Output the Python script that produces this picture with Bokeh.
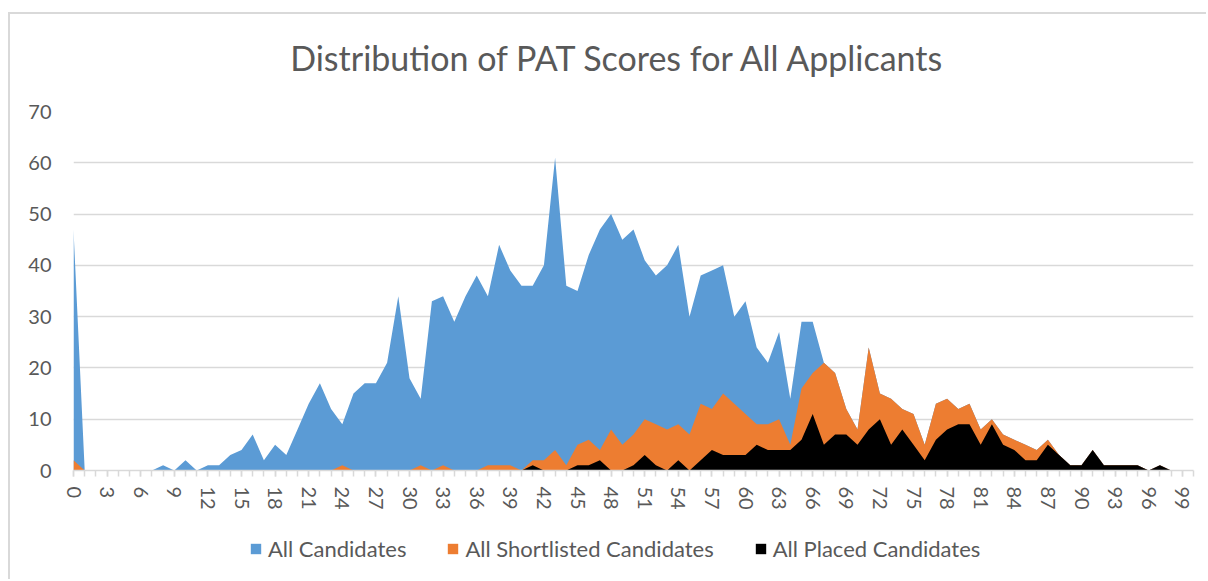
from bokeh.plotting import figure
from bokeh.layouts import column
from bokeh.models import Range1d, FixedTicker, Legend, LegendItem, Label
from bokeh.embed import file_html
from bokeh.resources import INLINE

scores = list(range(100))

all_candidates = [
    47, 0, 0, 0, 0, 0, 0, 0, 1, 0,
    2, 0, 1, 1, 3, 4, 7, 2, 5, 3,
    8, 13, 17, 12, 9, 15, 17, 17, 21, 34,
    18, 14, 33, 34, 29, 34, 38, 34, 44, 39,
    36, 36, 40, 61, 36, 35, 42, 47, 50, 45,
    47, 41, 38, 40, 44, 30, 38, 39, 40, 30,
    33, 24, 21, 27, 14, 29, 29, 21, 19, 12,
    8, 24, 15, 14, 12, 11, 5, 13, 14, 12,
    13, 8, 10, 7, 6, 5, 4, 6, 3, 1,
    1, 4, 1, 1, 1, 1, 0, 1, 0, 0,
]

shortlisted = [
    2, 0, 0, 0, 0, 0, 0, 0, 0, 0,
    0, 0, 0, 0, 0, 0, 0, 0, 0, 0,
    0, 0, 0, 0, 1, 0, 0, 0, 0, 0,
    0, 1, 0, 1, 0, 0, 0, 1, 1, 1,
    0, 2, 2, 4, 1, 5, 6, 4, 8, 5,
    7, 10, 9, 8, 9, 7, 13, 12, 15, 13,
    11, 9, 9, 10, 5, 16, 19, 21, 19, 12,
    8, 24, 15, 14, 12, 11, 5, 13, 14, 12,
    13, 8, 10, 7, 6, 5, 4, 6, 3, 1,
    1, 4, 1, 1, 1, 1, 0, 1, 0, 0,
]

placed = [
    0, 0, 0, 0, 0, 0, 0, 0, 0, 0,
    0, 0, 0, 0, 0, 0, 0, 0, 0, 0,
    0, 0, 0, 0, 0, 0, 0, 0, 0, 0,
    0, 0, 0, 0, 0, 0, 0, 0, 0, 0,
    0, 1, 0, 0, 0, 1, 1, 2, 0, 0,
    1, 3, 1, 0, 2, 0, 2, 4, 3, 3,
    3, 5, 4, 4, 4, 6, 11, 5, 7, 7,
    5, 8, 10, 5, 8, 5, 2, 6, 8, 9,
    9, 5, 9, 5, 4, 2, 2, 5, 3, 1,
    1, 4, 1, 1, 1, 1, 0, 1, 0, 0,
]

series = [all_candidates, shortlisted, placed]
series_names = ["All Candidates", "All Shortlisted Candidates", "All Placed Candidates"]
series_colors = ["#5B9BD5", "#ED7D31", "#000000"]
x_ticks = list(range(0, 100, 3))
y_ticks = list(range(0, 80, 10))
chart_title = "Distribution of PAT Scores for All Applicants"

TXT = "#595959"
FONT = "Lato"
W = 1196

# ---- title strip ----
TH = 85
tp = figure(width=W, height=TH, output_backend="svg", toolbar_location=None,
            x_range=Range1d(0, W), y_range=Range1d(0, TH),
            x_axis_type=None, y_axis_type=None,
            min_border_left=0, min_border_right=0, min_border_top=0, min_border_bottom=0)
tp.outline_line_color = None
tp.xgrid.visible = False
tp.ygrid.visible = False
tp.add_layout(Label(x=582, y=TH - 43, text=chart_title, text_align="center",
                    text_baseline="middle", text_font=FONT, text_font_size="34px",
                    text_color=TXT))

# ---- main chart ----
p = figure(width=W, height=425, output_backend="svg", toolbar_location=None,
           x_range=Range1d(0, 100), y_range=Range1d(0, 70),
           min_border_left=63, min_border_right=13, min_border_top=12, min_border_bottom=54)

p.outline_line_color = None
p.xgrid.grid_line_color = None
p.ygrid.grid_line_color = "#d9d9d9"
p.ygrid.grid_line_width = 1.5
p.ygrid.ticker = FixedTicker(ticks=y_ticks)

p.yaxis.ticker = FixedTicker(ticks=y_ticks)
p.yaxis.axis_line_color = None
p.yaxis.major_tick_line_color = None
p.yaxis.minor_tick_line_color = None
p.yaxis.major_tick_out = 0
p.yaxis.major_tick_in = 0
p.yaxis.major_label_standoff = 22
p.yaxis.major_label_text_font = FONT
p.yaxis.major_label_text_font_size = "20px"
p.yaxis.major_label_text_color = TXT

p.xaxis.ticker = FixedTicker(ticks=x_ticks, minor_ticks=list(range(0, 101)))
p.xaxis.axis_line_color = "#d9d9d9"
p.xaxis.axis_line_width = 1.5
p.xaxis.major_tick_line_color = "#d9d9d9"
p.xaxis.minor_tick_line_color = "#d9d9d9"
p.xaxis.major_tick_line_width = 1.5
p.xaxis.minor_tick_line_width = 1.5
p.xaxis.major_tick_out = 6
p.xaxis.major_tick_in = 0
p.xaxis.minor_tick_out = 6
p.xaxis.minor_tick_in = 0
p.xaxis.major_label_orientation = "vertical"
p.xaxis.major_label_standoff = 10
p.xaxis.major_label_text_font = FONT
p.xaxis.major_label_text_font_size = "20px"
p.xaxis.major_label_text_color = TXT

for vals, color in zip(series, series_colors):
    p.varea(x=scores, y1=[0] * len(scores), y2=vals, fill_color=color, fill_alpha=1.0)

# ---- legend strip ----
lg = figure(width=W, height=55, output_backend="svg", toolbar_location=None,
            x_range=Range1d(-2, -1), y_range=Range1d(0, 1),
            x_axis_type=None, y_axis_type=None,
            min_border_left=0, min_border_right=0, min_border_top=0, min_border_bottom=0)
lg.outline_line_color = None
lg.xgrid.visible = False
lg.ygrid.visible = False
lg_renderers = [lg.varea(x=scores, y1=[0] * len(scores), y2=vals, fill_color=c, fill_alpha=1.0)
                for vals, c in zip(series, series_colors)]
legend = Legend(items=[LegendItem(label=n, renderers=[r]) for n, r in zip(series_names, lg_renderers)],
                orientation="horizontal", location=(176, 17),
                label_text_font=FONT, label_text_font_size="22px", label_text_color=TXT,
                glyph_width=13, glyph_height=13, label_standoff=6, spacing=40,
                border_line_color=None, background_fill_alpha=0, margin=0, padding=4)
lg.add_layout(legend, "center")

layout = column(tp, p, lg, spacing=0)
layout.styles = {"margin-left": "8px", "margin-top": "12px",
                 "border-top": "2px solid #d9d9d9", "border-left": "2px solid #d9d9d9"}

open("out.html", "w").write(file_html(layout, INLINE))
